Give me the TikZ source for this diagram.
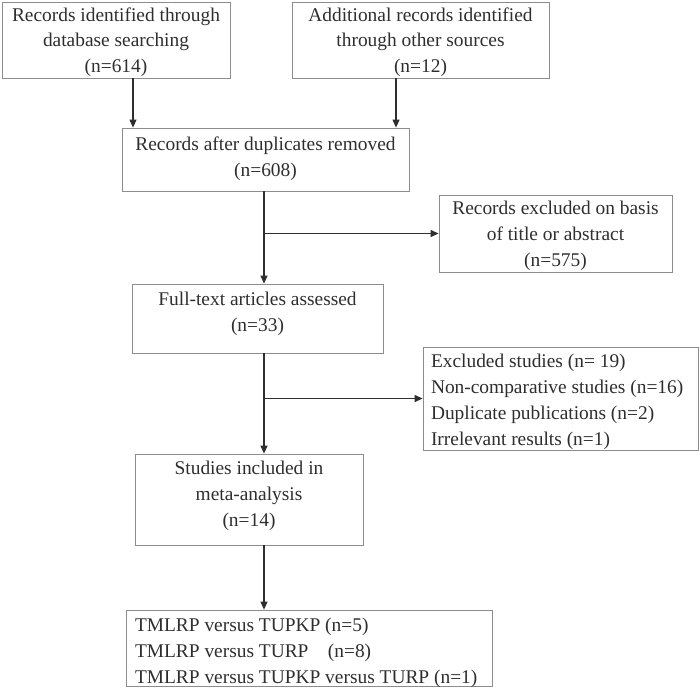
\documentclass[tikz,border=0pt]{standalone}
\usepackage{fontspec}
\setmainfont{Liberation Serif}
\usetikzlibrary{arrows.meta}

\definecolor{boxgray}{HTML}{8C8C8C}
\definecolor{inkgray}{HTML}{2E2E2E}

\tikzset{
  flowbox/.style={draw=boxgray, line width=0.8pt, text=inkgray, inner sep=2pt, align=center},
  listbox/.style={flowbox, align=flush left},
  flowline/.style={draw=inkgray, line width=1.1pt},
}

\begin{document}
\begin{tikzpicture}[x=1pt, y=-1pt, >={Triangle[length=8pt,width=7pt]},
                    font=\fontsize{19.4}{25.8}\selectfont]
\useasboundingbox (0,0) rectangle (700,689);
\node[flowbox, minimum width=228pt, minimum height=76pt, text depth=0pt] (db) at (116,40) {Records identified through\\database searching\\(n=614)};
\node[flowbox, minimum width=257pt, minimum height=76pt, text depth=0pt] (other) at (420.5,40) {Additional records identified\\through other sources\\(n=12)};
\node[flowbox, minimum width=287pt, minimum height=63pt, text depth=6pt] (dup) at (265.5,159.5) {Records after duplicates removed\\(n=608)};
\node[flowbox, minimum width=233pt, minimum height=77pt, text depth=-2pt] (excl) at (555.5,233.5) {Records excluded on basis\\of title or abstract\\(n=575)};
\node[flowbox, minimum width=251pt, minimum height=69pt, text depth=14pt] (full) at (257.5,318.5) {Full-text articles assessed\\(n=33)};
\node[listbox, inner xsep=8pt, text width=259pt, minimum height=103pt, text depth=75pt] (drop) at (560.5,398.5) {Excluded studies (n= 19)\\Non-comparative studies (n=16)\\Duplicate publications (n=2)\\Irrelevant results (n=1)};
\node[flowbox, minimum width=228pt, minimum height=91pt, text depth=11pt] (incl) at (249,499.5) {Studies included in\\meta-analysis\\(n=14)};
\node[listbox, inner xsep=9pt, text width=348pt, minimum height=76pt, text depth=46pt] (res) at (309,648) {TMLRP versus TUPKP (n=5)\\TMLRP versus TURP\quad(n=8)\\TMLRP versus TUPKP versus TURP (n=1)};

\draw[flowline, ->] ([xshift=17pt]db.south) -- ([xshift=17pt]db.south |- dup.north);
\draw[flowline, ->] ([xshift=-24.5pt]other.south) -- ([xshift=-24.5pt]other.south |- dup.north);
\coordinate (spine) at ([xshift=-1.5pt]dup.south);
\draw[flowline, ->] (spine) -- (spine |- full.north);
\draw[flowline, ->] (spine |- excl.west) -- (excl.west);
\draw[flowline, ->] (spine |- full.south) -- (spine |- incl.north);
\draw[flowline, ->] (spine |- drop.west) -- (drop.west);
\draw[flowline, ->] (spine |- incl.south) -- (spine |- res.north);
\end{tikzpicture}
\end{document}
